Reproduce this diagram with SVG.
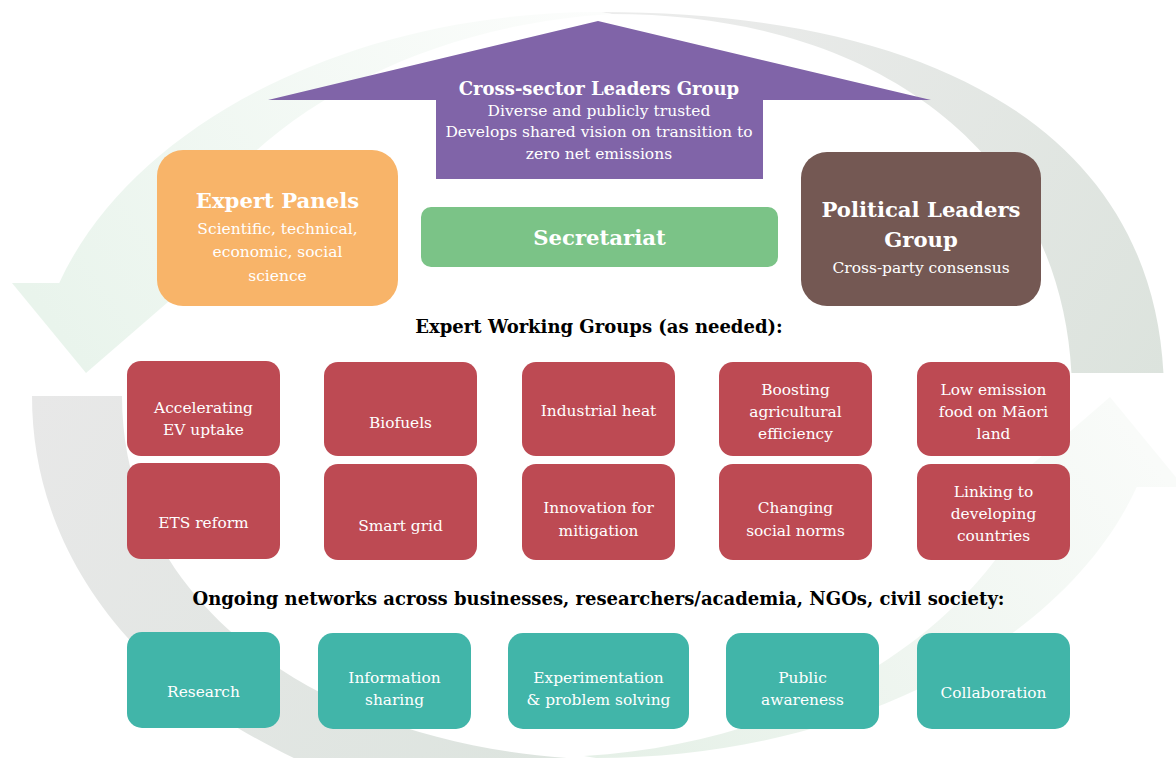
<svg xmlns="http://www.w3.org/2000/svg" width="1176" height="758" viewBox="0 0 1176 758">
<defs>
<style>
text{font-family:"DejaVu Serif","Liberation Serif",serif;text-anchor:middle;}
.tb{font-weight:bold;fill:#fff;}
.sub{font-size:15.5px;fill:#fff;}
.hd{font-weight:bold;fill:#000;font-size:18px;}
.bx{font-size:15.4px;fill:#fff;}
.red{fill:#BD4A53;}
.teal{fill:#41B5A9;}
</style>
<linearGradient id="gG1" gradientUnits="userSpaceOnUse" x1="600" y1="12" x2="1164" y2="373"><stop offset="0" stop-color="#ececec"/><stop offset="1" stop-color="#dce3dd"/></linearGradient>
<linearGradient id="gG2" gradientUnits="userSpaceOnUse" x1="32" y1="396" x2="620" y2="758"><stop offset="0" stop-color="#e8e8e8"/><stop offset="1" stop-color="#dce4de"/></linearGradient>
<linearGradient id="gN1" gradientUnits="userSpaceOnUse" x1="600" y1="12" x2="86" y2="373"><stop offset="0" stop-color="#fcfdfc"/><stop offset="1" stop-color="#e9f4ec"/></linearGradient>
<linearGradient id="gN2" gradientUnits="userSpaceOnUse" x1="600" y1="12" x2="86" y2="373"><stop offset="0" stop-color="#e5f0e7"/><stop offset="1" stop-color="#f9fbf9"/></linearGradient>
<clipPath id="cG1"><rect x="0" y="0" width="1176" height="373"/></clipPath>
<clipPath id="cG2"><rect x="0" y="396" width="625" height="420"/></clipPath>
<clipPath id="cN"><rect x="0" y="-100" width="700" height="383.5"/></clipPath>
</defs>
<rect width="1176" height="758" fill="#fff"/>
<g id="connectors">
<path d="M600,12 C960,12 1164,150 1164,395 L1072,395 C1072,166 890,14 612,14 Z" fill="url(#gG1)" clip-path="url(#cG1)"/>
<path d="M32,396 C32,640 280,830 660,835 L640,760 C350,765 122,620 122,396 Z" fill="url(#gG2)" clip-path="url(#cG2)"/>
<g id="cycle-arrow-left">
<path d="M600,12 C289,12 34,185 34,396 L135,396 C135,200 340,30 612,14 Z" fill="url(#gN1)" clip-path="url(#cN)"/>
<polygon points="12,283 190,283 86,373" fill="url(#gN1)"/>
</g>
<g id="cycle-arrow-right" transform="rotate(180 598 385)">
<path d="M600,12 C289,12 34,185 34,396 L135,396 C135,200 340,30 612,14 Z" fill="url(#gN2)" clip-path="url(#cN)"/>
<polygon points="12,283 190,283 86,373" fill="url(#gN2)"/>
</g>
</g>
<g id="cross-sector">
<polygon points="268,100 598,21 931,100 763,100 763,179 436,179 436,100" fill="#8064A8"/>
<text x="599" y="95" class="tb" font-size="18">Cross-sector Leaders Group</text>
<text x="599" y="116" class="sub">Diverse and publicly trusted</text>
<text x="599" y="137" class="sub">Develops shared vision on transition to</text>
<text x="599" y="159" class="sub">zero net emissions</text>
</g>
<g id="expert-panels">
<rect x="157" y="150" width="241" height="156" rx="26" fill="#F8B469"/>
<text x="277.5" y="208" class="tb" font-size="21.2">Expert Panels</text>
<text x="277.5" y="234" class="sub" font-size="17.5">Scientific, technical,</text>
<text x="277.5" y="257" class="sub" font-size="17.5">economic, social</text>
<text x="277.5" y="281" class="sub" font-size="17.5">science</text>
</g>
<g id="secretariat">
<rect x="421" y="207" width="357" height="60" rx="10" fill="#7BC387"/>
<text x="599.5" y="245" class="tb" font-size="21.2">Secretariat</text>
</g>
<g id="political-leaders">
<rect x="801" y="152" width="240" height="154" rx="26" fill="#745853"/>
<text x="921" y="217" class="tb" font-size="21.2">Political Leaders</text>
<text x="921" y="247" class="tb" font-size="21.2">Group</text>
<text x="921" y="273" class="sub" font-size="18.6">Cross-party consensus</text>
</g>
<g id="heading-ewg">
<text x="599" y="333" class="hd">Expert Working Groups (as needed):</text>
</g>
<g id="ewg-ev"><rect x="127" y="361" width="153" height="95" rx="14" class="red"/>
<text x="203.5" y="413" class="bx">Accelerating</text><text x="203.5" y="435" class="bx">EV uptake</text></g>
<g id="ewg-biofuels"><rect x="324" y="362" width="153" height="94" rx="14" class="red"/>
<text x="400.5" y="428" class="bx">Biofuels</text></g>
<g id="ewg-heat"><rect x="522" y="362" width="153" height="94" rx="14" class="red"/>
<text x="598.5" y="416" class="bx">Industrial heat</text></g>
<g id="ewg-agri"><rect x="719" y="362" width="153" height="94" rx="14" class="red"/>
<text x="795.5" y="395" class="bx">Boosting</text><text x="795.5" y="417" class="bx">agricultural</text><text x="795.5" y="439" class="bx">efficiency</text></g>
<g id="ewg-maori"><rect x="917" y="362" width="153" height="94" rx="14" class="red"/>
<text x="993.5" y="395" class="bx">Low emission</text><text x="993.5" y="417" class="bx">food on Māori</text><text x="993.5" y="439" class="bx">land</text></g>
<g id="ewg-ets"><rect x="127" y="463" width="153" height="96" rx="14" class="red"/>
<text x="203.5" y="528" class="bx">ETS reform</text></g>
<g id="ewg-grid"><rect x="324" y="464" width="153" height="96" rx="14" class="red"/>
<text x="400.5" y="531" class="bx">Smart grid</text></g>
<g id="ewg-innovation"><rect x="522" y="464" width="153" height="96" rx="14" class="red"/>
<text x="598.5" y="513" class="bx">Innovation for</text><text x="598.5" y="536" class="bx">mitigation</text></g>
<g id="ewg-norms"><rect x="719" y="464" width="153" height="96" rx="14" class="red"/>
<text x="795.5" y="513" class="bx">Changing</text><text x="795.5" y="536" class="bx">social norms</text></g>
<g id="ewg-developing"><rect x="917" y="464" width="153" height="96" rx="14" class="red"/>
<text x="993.5" y="497" class="bx">Linking to</text><text x="993.5" y="519" class="bx">developing</text><text x="993.5" y="541" class="bx">countries</text></g>
<g id="heading-networks">
<text x="598.5" y="605" class="hd">Ongoing networks across businesses, researchers/academia, NGOs, civil society:</text>
</g>
<g id="net-research"><rect x="127" y="632" width="153" height="96" rx="15" class="teal"/>
<text x="203.5" y="697" class="bx">Research</text></g>
<g id="net-info"><rect x="318" y="633" width="153" height="96" rx="15" class="teal"/>
<text x="394.5" y="683" class="bx">Information</text><text x="394.5" y="705" class="bx">sharing</text></g>
<g id="net-experimentation"><rect x="508" y="633" width="181" height="96" rx="15" class="teal"/>
<text x="598.5" y="683" class="bx">Experimentation</text><text x="598.5" y="705" class="bx">&amp; problem solving</text></g>
<g id="net-awareness"><rect x="726" y="633" width="153" height="96" rx="15" class="teal"/>
<text x="802.5" y="683" class="bx">Public</text><text x="802.5" y="705" class="bx">awareness</text></g>
<g id="net-collaboration"><rect x="917" y="633" width="153" height="96" rx="15" class="teal"/>
<text x="993.5" y="698" class="bx">Collaboration</text></g>
</svg>
